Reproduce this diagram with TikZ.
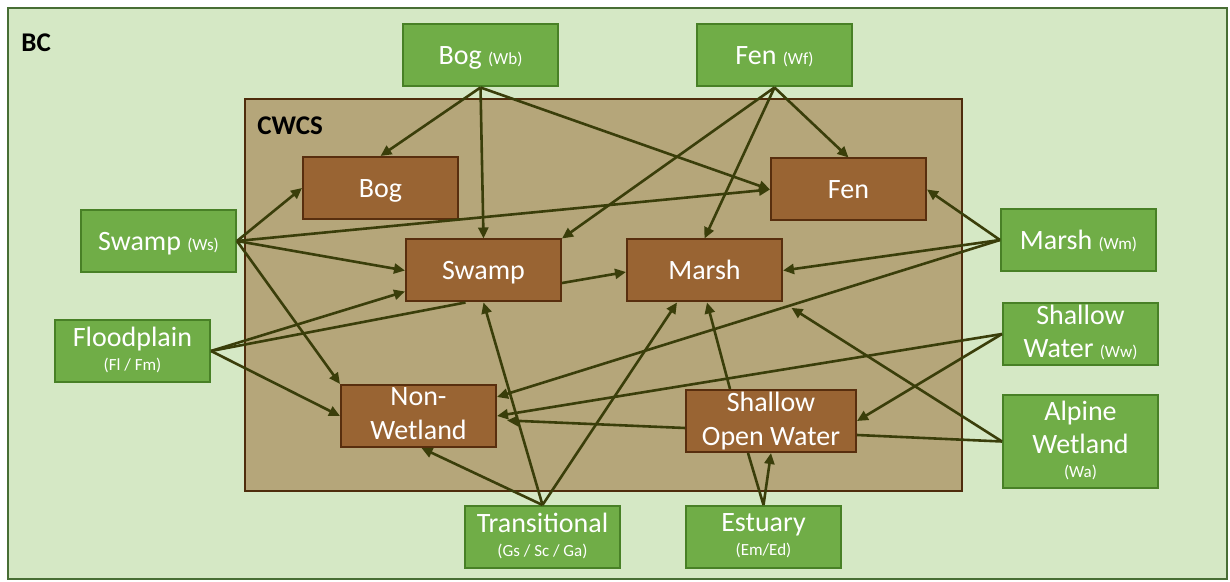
\documentclass[tikz,border=0pt]{standalone}
\usepackage{fontspec}
\setmainfont{Carlito}
\usetikzlibrary{arrows.meta,calc}
\definecolor{bcfill}{RGB}{213,232,197}
\definecolor{bcline}{RGB}{72,110,52}
\definecolor{cwfill}{RGB}{181,166,122}
\definecolor{cwline}{RGB}{78,44,12}
\definecolor{gfill}{RGB}{112,173,71}
\definecolor{gline}{RGB}{72,128,38}
\definecolor{bfill}{RGB}{153,100,51}
\definecolor{bline}{RGB}{88,46,14}
\definecolor{arr}{RGB}{58,62,10}
\newcommand\smtxt[1]{{\fontsize{8.5}{10}\selectfont #1}}
\begin{document}
\begin{tikzpicture}[x=0.5pt,y=-0.5pt,
  box/.style={draw, line width=1pt, minimum width=77.5pt, minimum height=31pt,
    inner sep=0pt, text=white, align=center, font=\fontsize{14}{17}\selectfont,
    execute at begin node={\rule{0pt}{12pt}},
    execute at end node={\rule[-2.5pt]{0pt}{0pt}}},
  gbox/.style={box, fill=gfill, draw=gline},
  bbox/.style={box, fill=bfill, draw=bline},
  link/.style={draw=arr, line width=1.3pt, -{Triangle[length=5.5pt,width=5pt]}},
  plain/.style={draw=arr, line width=1.3pt},
  title/.style={font=\bfseries\fontsize{13.5}{15}\selectfont, anchor=base west, inner sep=0pt, text=black}
]
\useasboundingbox (0,0) rectangle (1230,582);
\fill[white] (0,0) rectangle (1230,582);
\draw[bcline, fill=bcfill, line width=1.2pt] (8,8) rectangle (1227,579);
\node[title] (bclabel) at (21,52) {BC};
\draw[cwline, fill=cwfill, line width=1.3pt] (245,99) rectangle (962,491);
\node[title] (cwlabel) at (257,135) {CWCS};

% green (BC) classes
\node[gbox] (wb) at (480.5,55.5) {Bog \smtxt{(Wb)}};
\node[gbox] (wf) at (774.5,55.5) {Fen \smtxt{(Wf)}};
\node[gbox] (ws) at (158.5,241) {Swamp \smtxt{(Ws)}};
\node[gbox] (fl) at (132.5,351) {Floodplain\\[-5pt]\smtxt{(Fl / Fm)}};
\node[gbox] (wm) at (1078.5,240) {Marsh \smtxt{(Wm)}};
\node[gbox] (ww) at (1080.5,334) {Shallow\\[-0.5pt]Water \smtxt{(Ww)}};
\node[gbox, minimum height=46.5pt] (wa) at (1080.5,441.5) {Alpine\\[-0.5pt]Wetland\\[-5pt]\smtxt{(Wa)}};
\node[gbox] (tr) at (542.5,537) {Transitional\\[-5pt]\smtxt{(Gs / Sc / Ga)}};
\node[gbox] (es) at (763.5,537) {Estuary\\[-5pt]\smtxt{(Em/Ed)}};

% brown (CWCS) classes
\node[bbox] (bog) at (380.5,188) {Bog};
\node[bbox] (fen) at (848.5,189.5) {Fen};
\node[bbox] (swamp) at (483.5,270.5) {Swamp};
\node[bbox] (marsh) at (704.5,270.5) {Marsh};
\node[bbox] (nw) at (418.5,416) {Non-\\Wetland};
\node[bbox, minimum width=85pt] (sow) at (771,421) {Shallow\\Open Water};

% connectors
\draw[link] (wb.south) -- (bog.north);
\draw[link] (wb.south) -- (swamp.north);
\draw[link] (wb.south) -- (fen.west);
\draw[link] (wf.south) -- (swamp.north east);
\draw[link] (wf.south) -- (marsh.north);
\draw[link] (wf.south) -- (fen.north);
\draw[link] (ws.east) -- (bog.west);
\draw[link] (ws.east) -- (fen.west);
\draw[link] (ws.east) -- (swamp.west);
\draw[link] (ws.east) -- (nw.north west);
\draw[link] (fl.east) -- ([yshift=5.5pt]swamp.south west);
\draw[plain] (fl.east) -- ([xshift=-9pt]swamp.south);
\draw[link] (fl.east) -- (nw.west);
\draw[link] (wm.west) -- (fen.east);
\draw[link] (wm.west) -- (marsh.east);
\draw[link] (wm.west) -- ([yshift=9.5pt]nw.east);
\draw[link] (ww.west) -- (nw.east);
\draw[link] (ww.west) -- (sow.east);
\draw[link, shorten >=5pt] (wa.west) -- (marsh.south east);
\draw[plain] (wa.west) -- ([yshift=-7pt]sow.east);
\draw[link, shorten >=5pt] ([yshift=-3.5pt]sow.west) -- ([yshift=-2pt]nw.east);
\draw[link] ([xshift=-20.5pt]sow.north) -- ([xshift=1.25pt]marsh.south);
\draw[link] (es.north) -- (sow.south);
\draw[plain] (es.north) -- ([xshift=-11.5pt]sow.south);
\draw[link] (tr.north) -- ([xshift=1.5pt]nw.south);
\draw[link] (tr.north) -- (swamp.south);
\draw[link] (tr.north) -- ([xshift=-13.75pt]marsh.south);
\draw[link] ([yshift=-6.25pt]swamp.east) -- ([yshift=-0.75pt]marsh.west);
\end{tikzpicture}
\end{document}
